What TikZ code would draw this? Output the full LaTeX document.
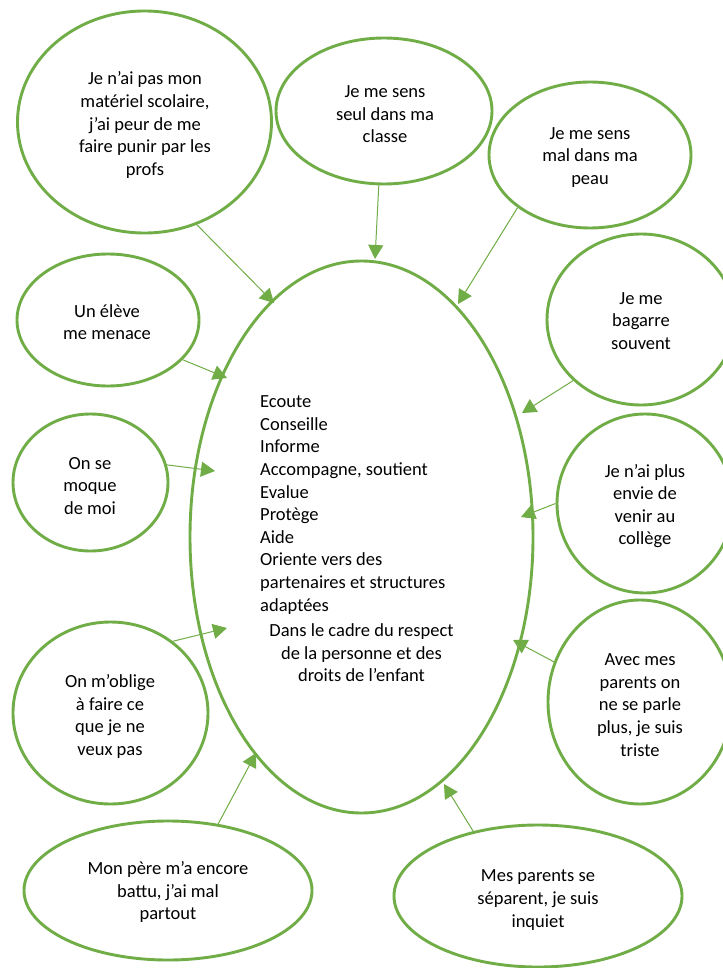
\documentclass[tikz,border=0pt]{standalone}
\usepackage{fontspec}
\setmainfont{Carlito}
\usetikzlibrary{arrows.meta,shapes.geometric}
\definecolor{ogreen}{HTML}{70AD47}
\begin{document}
\begin{tikzpicture}[x=1pt,y=-1pt,
  bubble/.style={draw=ogreen, line width=2.9pt, ellipse, inner sep=0pt},
  txt/.style={align=center, font=\fontsize{18.5}{22.6}\selectfont, inner sep=0pt, text=black},
  link/.style={draw=ogreen, line width=1pt, -{Triangle[length=14pt,width=15pt]}}]
\useasboundingbox (0,0) rectangle (722,968);
\fill[white] (0,0) rectangle (722,968);

% central ellipse
\node[bubble, minimum width=343pt, minimum height=552pt] (c) at (361.5,537) {};
\node[txt, align=left, anchor=west] (ct1) at (260,505) {Ecoute\\Conseille\\Informe\\Accompagne, soutient\\Evalue\\Protège\\Aide\\Oriente vers des\\partenaires et structures\\adaptées};
\node[txt] (ct2) at (361.5,653) {Dans le cadre du respect\\de la personne et des\\droits de l’enfant};

% surrounding ellipses
\node[bubble, minimum width=254pt, minimum height=222pt] (e1) at (144.5,122) {};
\node[txt] (t1) at (145,125) {Je n’ai pas mon\\matériel scolaire,\\j’ai peur de me\\faire punir par les\\profs};

\node[bubble, minimum width=216pt, minimum height=146pt] (e2) at (384,111) {};
\node[txt] (t2) at (385,114.5) {Je me sens\\seul dans ma\\classe};

\node[bubble, minimum width=202pt, minimum height=146pt] (e3) at (590,155) {};
\node[txt] (t3) at (590,157.5) {Je me sens\\mal dans ma\\peau};

\node[bubble, minimum width=188pt, minimum height=171pt] (e4) at (641,319.5) {};
\node[txt] (t4) at (641,321) {Je me\\bagarre\\souvent};

\node[bubble, minimum width=176pt, minimum height=179pt] (e5) at (645,503.5) {};
\node[txt] (t5) at (645,506) {Je n’ai plus\\envie de\\venir au\\collège};

\node[bubble, minimum width=184pt, minimum height=204pt] (e6) at (640,702) {};
\node[txt] (t6) at (640,705) {Avec mes\\parents on\\ne se parle\\plus, je suis\\triste};

\node[bubble, minimum width=288pt, minimum height=142pt] (e7) at (538,896) {};
\node[txt] (t7) at (538,900) {Mes parents se\\séparent, je suis\\inquiet};

\node[bubble, minimum width=288pt, minimum height=139pt] (e8) at (168,890.5) {};
\node[txt] (t8) at (168,892) {Mon père m’a encore\\battu, j’ai mal\\partout};

\node[bubble, minimum width=195pt, minimum height=182pt] (e9) at (110.5,713) {};
\node[txt] (t9) at (110,716.5) {On m’oblige\\à faire ce\\que je ne\\veux pas};

\node[bubble, minimum width=155pt, minimum height=137pt] (e10) at (90.5,482.5) {};
\node[txt] (t10) at (90,486) {On se\\moque\\de moi};

\node[bubble, minimum width=182pt, minimum height=132pt] (e11) at (108,320) {};
\node[txt] (t11) at (107,322) {Un élève\\me menace};

% arrow tips
\coordinate (pa) at (274,303);
\coordinate (pb) at (375,259);
\coordinate (pc) at (458,304);
\coordinate (pd) at (522,413);
\coordinate (pe) at (521,517);
\coordinate (pf) at (513,640);
\coordinate (pg) at (444,784);
\coordinate (ph) at (256,753);
\coordinate (pi) at (227,628);
\coordinate (pj) at (215,471);
\coordinate (pk) at (227,378);

\draw[link] (e1.-63) -- (pa);
\draw[link] (e2.-94) -- (pb);
\draw[link] (e3.216) -- (pc);
\draw[link] (e4.222) -- (pd);
\draw[link] (e5.180) -- (pe);
\draw[link] (e6.155) -- (pf);
\draw[link] (e7.135) -- (pg);
\draw[link] (e8.53) -- (ph);
\draw[link] (e9.49) -- (pi);
\draw[link] (e10.13) -- (pj);
\draw[link] (e11.-28) -- (pk);
\end{tikzpicture}
\end{document}
